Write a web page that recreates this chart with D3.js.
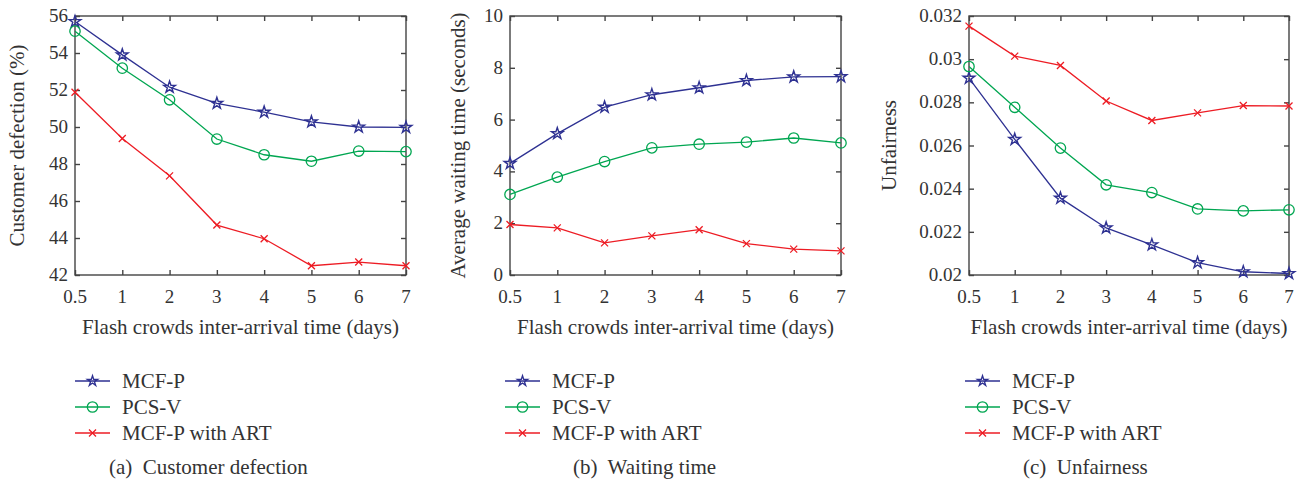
<!DOCTYPE html>
<head>
  <meta charset="utf-8">
  <script src="https://cdn.jsdelivr.net/npm/d3@7/dist/d3.min.js"></script>
  <style>
    body { margin: 0; background: #fff; }
    text { font-family: "Liberation Serif", "DejaVu Serif", serif; fill: #333; }
  </style>
</head>
<body>
<div id="chart"></div>
<script>
  // x categories (flash crowds inter-arrival time, days)
  var xLabels = ["0.5", "1", "2", "3", "4", "5", "6", "7"];
  var seriesNames = ["MCF-P", "PCS-V", "MCF-P with ART"];
  var seriesColors = ["#2e3192", "#00a651", "#ed1c24"];
  var seriesMarkers = ["star", "circle", "cross"];

  // (a) customer defection (%)
  var defectionMCFP = [55.7, 53.9, 52.15, 51.28, 50.8, 50.28, 50.0, 49.98];
  var defectionPCSV = [55.18, 53.18, 51.47, 49.35, 48.5, 48.15, 48.7, 48.67];
  var defectionART  = [51.88, 49.38, 47.36, 44.7, 43.96, 42.5, 42.7, 42.5];
  var defectionTicks = [42, 44, 46, 48, 50, 52, 54, 56];

  // (b) average waiting time (seconds)
  var waitMCFP = [4.31, 5.46, 6.48, 6.96, 7.23, 7.51, 7.65, 7.66];
  var waitPCSV = [3.11, 3.78, 4.38, 4.91, 5.05, 5.13, 5.29, 5.1];
  var waitART  = [1.95, 1.82, 1.24, 1.51, 1.75, 1.21, 1.0, 0.93];
  var waitTicks = [0, 2, 4, 6, 8, 10];

  // (c) unfairness
  var unfairMCFP = [0.02912, 0.02628, 0.02356, 0.02218, 0.0214, 0.02057, 0.02015, 0.02007];
  var unfairPCSV = [0.02966, 0.02777, 0.02588, 0.02418, 0.02382, 0.02306, 0.02297, 0.02302];
  var unfairART  = [0.03153, 0.03014, 0.02971, 0.02806, 0.02716, 0.02751, 0.02785, 0.02783];
  var unfairTicks = [0.02, 0.022, 0.024, 0.026, 0.028, 0.03, 0.032];

  var svg = d3.select("#chart").append("svg")
    .attr("width", 1307)
    .attr("height", 480);

  var panels = [
    { left: 75, right: 406, yLabel: "Customer defection (%)", yLabelX: 18,
      domain: [42, 56], ticks: defectionTicks, fmt: d3.format("d"),
      series: [defectionMCFP, defectionPCSV, defectionART],
      legendX: 75, caption: "(a)\u00a0 Customer defection", captionX: 109 },
    { left: 510, right: 841, yLabel: "Average waiting time (seconds)", yLabelX: 459,
      domain: [0, 10], ticks: waitTicks, fmt: d3.format("d"),
      series: [waitMCFP, waitPCSV, waitART],
      legendX: 505, caption: "(b)\u00a0 Waiting time", captionX: 573 },
    { left: 969, right: 1289, yLabel: "Unfairness", yLabelX: 890,
      domain: [0.02, 0.032], ticks: unfairTicks, fmt: function(d) { return String(+d.toFixed(3)); },
      series: [unfairMCFP, unfairPCSV, unfairART],
      legendX: 965, caption: "(c)\u00a0 Unfairness", captionX: 1023 }
  ];

  var plotTop = 16, plotBottom = 275, tickLen = 5;

  function drawMarker(g, type, color, small) {
    if (type == "circle") {
      g.append("circle").attr("r", 5.2)
        .attr("fill", "none").attr("stroke", color).attr("stroke-width", 1.3);
    } else if (type == "star") {
      g.append("path").attr("d", d3.symbol().type(d3.symbolStar).size(small ? 32 : 42)())
        .attr("fill", "none").attr("stroke", color).attr("stroke-width", 1.4);
    } else {
      g.append("path").attr("d", "M-3.5,-3.5L3.5,3.5M-3.5,3.5L3.5,-3.5")
        .attr("fill", "none").attr("stroke", color).attr("stroke-width", 1.3);
    }
  }

  panels.forEach(function(p) {
    var x = d3.scalePoint().domain(xLabels).range([p.left, p.right]);
    var y = d3.scaleLinear().domain(p.domain).range([plotBottom, plotTop]);
    var g = svg.append("g");

    // frame
    g.append("rect")
      .attr("x", p.left).attr("y", plotTop)
      .attr("width", p.right - p.left).attr("height", plotBottom - plotTop)
      .attr("fill", "none").attr("stroke", "#444").attr("stroke-width", 1.4);

    // inward ticks on all four sides
    g.append("g").attr("transform", "translate(0," + plotBottom + ")")
      .call(d3.axisTop(x).tickSize(tickLen).tickFormat(""))
      .call(a => a.select(".domain").remove());
    g.append("g").attr("transform", "translate(0," + plotTop + ")")
      .call(d3.axisBottom(x).tickSize(tickLen).tickFormat(""))
      .call(a => a.select(".domain").remove());
    g.append("g").attr("transform", "translate(" + p.left + ",0)")
      .call(d3.axisRight(y).tickValues(p.ticks).tickSize(tickLen).tickFormat(""))
      .call(a => a.select(".domain").remove());
    g.append("g").attr("transform", "translate(" + p.right + ",0)")
      .call(d3.axisLeft(y).tickValues(p.ticks).tickSize(tickLen).tickFormat(""))
      .call(a => a.select(".domain").remove());
    g.selectAll(".tick line").attr("stroke", "#444").attr("stroke-width", 1.4);

    // tick labels
    g.selectAll(".xlab").data(xLabels).join("text")
      .attr("x", d => x(d)).attr("y", 303)
      .attr("text-anchor", "middle").attr("font-size", 19)
      .text(d => d);
    g.selectAll(".ylab").data(p.ticks).join("text")
      .attr("x", p.left - 7).attr("y", d => y(d) + 6)
      .attr("text-anchor", "end").attr("font-size", 19)
      .text(p.fmt);

    // axis titles
    g.append("text")
      .attr("x", (p.left + p.right) / 2).attr("y", 334)
      .attr("text-anchor", "middle").attr("font-size", 21)
      .text("Flash crowds inter-arrival time (days)");
    g.append("text")
      .attr("transform", "translate(" + (p.yLabelX + 6) + "," + ((plotTop + plotBottom) / 2) + ") rotate(-90)")
      .attr("text-anchor", "middle").attr("font-size", 21)
      .text(p.yLabel);

    // lines and markers
    p.series.forEach(function(vals, i) {
      var pts = vals.map((v, j) => ({ x: xLabels[j], v: v }));
      g.append("path").datum(pts)
        .attr("fill", "none").attr("stroke", seriesColors[i]).attr("stroke-width", 1.3)
        .attr("d", d3.line().x(d => x(d.x)).y(d => y(d.v)));
      pts.forEach(function(d) {
        var m = g.append("g").attr("transform", "translate(" + x(d.x) + "," + y(d.v) + ")");
        drawMarker(m, seriesMarkers[i], seriesColors[i], false);
      });
    });

    // legend
    seriesNames.forEach(function(name, i) {
      var ly = 381 + i * 26;
      g.append("line")
        .attr("x1", p.legendX).attr("x2", p.legendX + 35)
        .attr("y1", ly).attr("y2", ly)
        .attr("stroke", seriesColors[i]).attr("stroke-width", 1.3);
      var m = g.append("g").attr("transform", "translate(" + (p.legendX + 17.5) + "," + ly + ")");
      drawMarker(m, seriesMarkers[i], seriesColors[i], true);
      g.append("text")
        .attr("x", p.legendX + 47).attr("y", ly + 7)
        .attr("font-size", 21)
        .text(name);
    });

    g.append("text")
      .attr("x", p.captionX).attr("y", 474)
      .attr("font-size", 21)
      .text(p.caption);
  });
</script>
</body>
